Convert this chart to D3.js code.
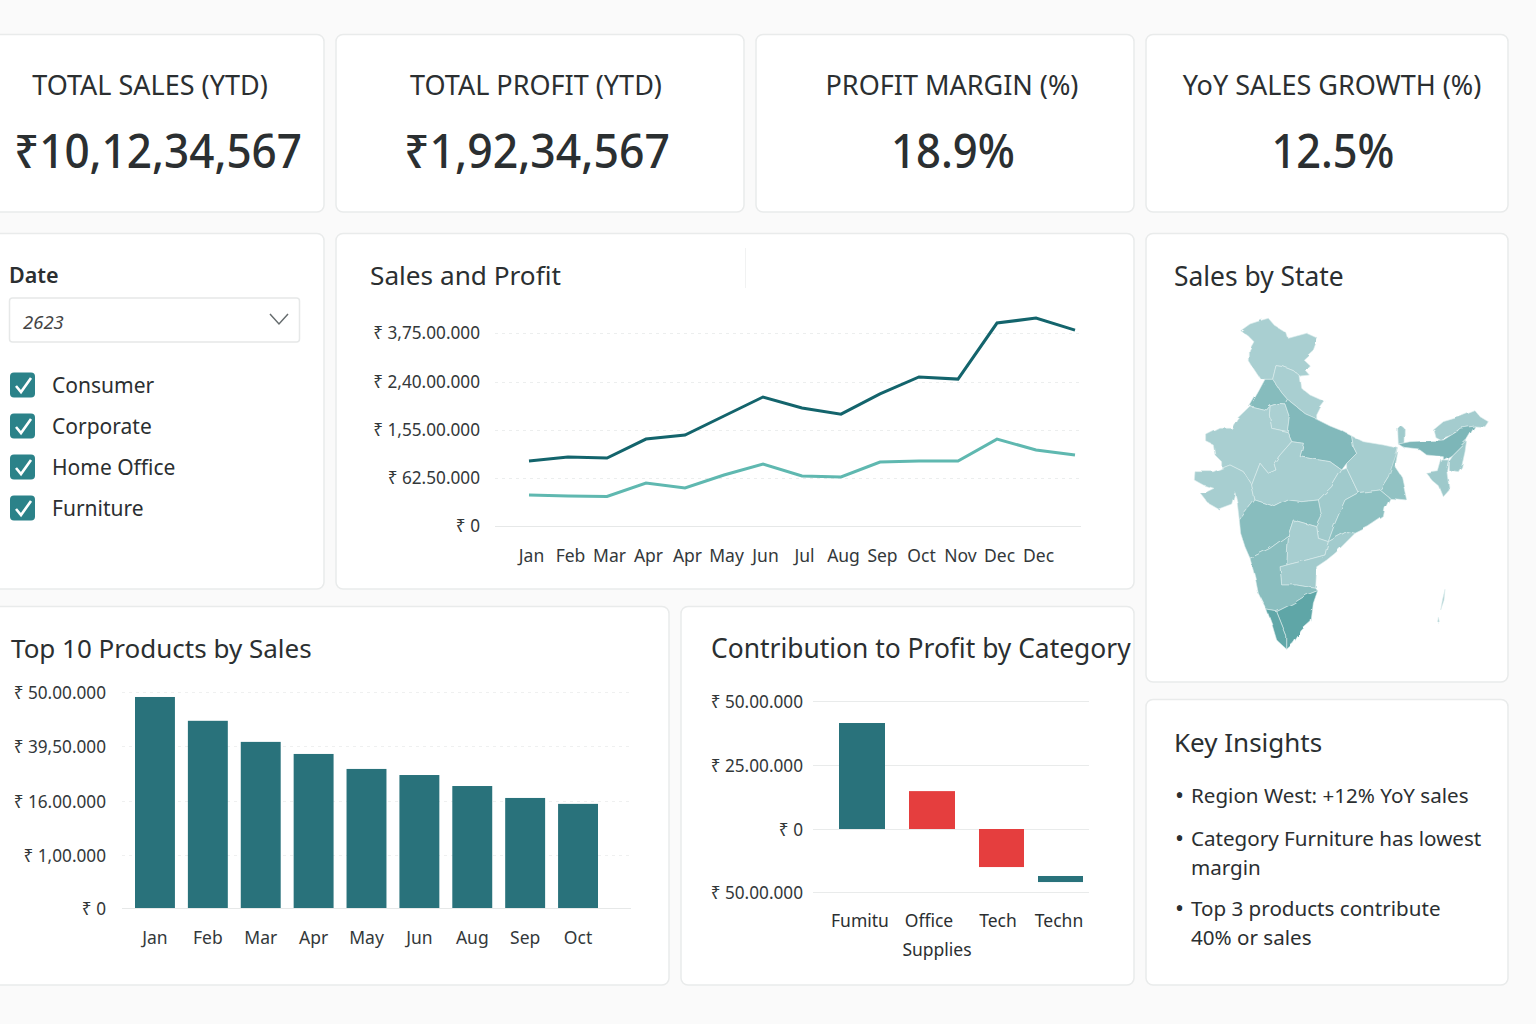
<!DOCTYPE html>
<html>
<head>
<meta charset="utf-8">
<title>Sales dashboard</title>
<script src="https://cdn.jsdelivr.net/npm/d3@7"></script>
<style>
html, body { margin: 0; padding: 0; background: #fafafa; overflow: hidden; }
text { font-family: "Noto Sans", "DejaVu Sans", sans-serif; fill: #2b2f31; }
</style>
</head>
<body>
<div id="chart"></div>
<script>
// KPI row
var kpiTitles = ["TOTAL SALES (YTD)", "TOTAL PROFIT (YTD)", "PROFIT MARGIN (%)", "YoY SALES GROWTH (%)"];
var kpiValues = ["₹10,12,34,567", "₹1,92,34,567", "18.9%", "12.5%"];

// slicer
var slicerYear = "2623";
var segments = ["Consumer", "Corporate", "Home Office", "Furniture"];

// sales and profit lines (15 points, only 14 are labelled in the picture)
var lineMonths = ["Jan", "Feb", "Mar", "Apr", "Apr", "May", "Jun", "Jul", "Aug", "Sep", "Oct", "Nov", "Dec", "Dec", ""];
var salesSeries = [9530000, 10300000, 10100000, 13750000, 14540000, 17980000, 21340000, 19400000, 18300000, 21880000, 25380000, 24800000, 40250000, 41600000, 38300000];
var profitSeries = [4040000, 3900000, 3840000, 5600000, 4950000, 6830000, 8950000, 6640000, 6440000, 9330000, 9530000, 9530000, 13750000, 11650000, 10680000];
var lineTickValues = [0, 6250000, 15500000, 24000000, 37500000];
var lineTickLabels = ["₹ 0", "₹ 62.50.000", "₹ 1,55.00.000", "₹ 2,40.00.000", "₹ 3,75.00.000"];

// top 10 products
var productMonths = ["Jan", "Feb", "Mar", "Apr", "May", "Jun", "Aug", "Sep", "Oct"];
var productSales = [4903000, 4440000, 4030000, 3610000, 2970000, 2710000, 2240000, 1730000, 1520000];
var productTickValues = [0, 100000, 1600000, 3950000, 5000000];
var productTickLabels = ["₹ 0", "₹ 1,00.000", "₹ 16.00.000", "₹ 39,50.000", "₹ 50.00.000"];

// contribution to profit, each bar runs from low to high
var profitCategories = ["Fumitu", "Office", "Tech", "Techn"];
var profitCategoryLine2 = ["", "Supplies", "", ""];
var profitLow = [0, 0, -3020000, -4210000];
var profitHigh = [4140000, 1480000, 0, -3730000];
var profitLoss = [false, true, true, false];
var profitTickValues = [-5000000, 0, 2500000, 5000000];
var profitTickLabels = ["₹ 50.00.000", "₹ 0", "₹ 25.00.000", "₹ 50.00.000"];

// key insights
var insights = [
  ["Region West: +12% YoY sales"],
  ["Category Furniture has lowest", "margin"],
  ["Top 3 products contribute", "40% or sales"]
];

// sales by state, outlines
var stateNames = ["Jammu and Kashmir", "Himachal Uttarakhand", "Punjab Haryana", "Delhi", "Uttar Pradesh", "Rajasthan", "Gujarat", "Madhya Pradesh", "Chhattisgarh", "Bihar Jharkhand", "West Bengal", "Odisha", "Maharashtra", "Telangana", "Andhra Pradesh", "Karnataka", "Tamil Nadu", "Kerala", "Sikkim", "Arunachal", "Assam", "Nagaland Manipur", "Tripura Mizoram", "Andaman", "Andaman South"];
var stateSales = [20, 20, 58, 18, 62, 20, 22, 22, 30, 24, 46, 50, 56, 22, 28, 54, 100, 98, 30, 26, 68, 32, 32, 25, 25];
var stateShapes = [
  [[272,92],[300,72],[330,62],[355,55],[375,78],[410,100],[415,115],[440,108],[470,100],[503,115],[490,150],[460,178],[478,195],[465,210],[478,225],[450,228],[430,212],[400,200],[378,197],[368,238],[345,238],[330,235],[310,205],[298,185],[298,150],[312,125],[295,108]],
  [[368,238],[378,197],[400,200],[430,212],[450,228],[455,265],[480,285],[525,305],[510,325],[500,345],[500,358],[470,345],[440,320],[412,298],[395,278]],
  [[345,238],[368,238],[395,278],[412,298],[405,312],[385,310],[360,318],[350,330],[300,318],[325,275]],
  [[360,318],[385,310],[405,312],[418,350],[412,395],[365,385],[358,345]],
  [[405,312],[412,298],[440,320],[470,345],[500,358],[540,378],[575,392],[605,408],[610,440],[620,460],[590,490],[575,510],[540,485],[495,478],[450,470],[460,430],[425,425],[412,395],[418,350]],
  [[300,318],[350,330],[360,318],[358,345],[365,385],[412,395],[425,425],[390,465],[372,490],[378,510],[355,520],[330,490],[305,555],[280,515],[240,495],[215,505],[215,485],[195,465],[190,435],[170,425],[170,405],[210,385],[245,385],[262,355]],
  [[135,515],[190,515],[215,505],[240,495],[280,515],[305,555],[315,600],[268,660],[262,610],[255,578],[245,612],[205,627],[175,610],[150,578],[165,578],[192,565],[160,555],[133,540]],
  [[305,555],[330,490],[355,520],[378,510],[372,490],[390,465],[425,425],[460,430],[450,470],[495,478],[540,485],[575,510],[545,560],[505,600],[455,605],[415,600],[375,620],[315,600]],
  [[505,600],[545,560],[575,510],[590,505],[625,578],[585,600],[555,670],[535,725],[505,715],[500,680],[515,650]],
  [[605,408],[640,425],[700,435],[745,445],[735,500],[715,530],[690,570],[625,578],[590,505],[590,490],[620,460],[610,440]],
  [[745,445],[735,500],[755,530],[770,600],[720,595],[690,570],[715,530]],
  [[625,578],[690,570],[720,595],[705,625],[700,650],[655,680],[615,700],[590,695],[535,725],[555,670],[585,600]],
  [[268,660],[315,600],[375,620],[415,600],[455,605],[505,600],[515,650],[500,680],[430,660],[415,705],[360,745],[300,775],[285,740],[272,700]],
  [[430,660],[500,680],[505,715],[535,725],[525,765],[470,780],[410,795],[415,705]],
  [[535,725],[590,695],[615,700],[585,730],[555,760],[530,780],[500,800],[497,865],[440,855],[395,855],[390,800],[410,795],[470,780],[525,765]],
  [[300,775],[360,745],[415,705],[410,795],[390,800],[395,855],[440,855],[497,865],[503,872],[470,885],[430,910],[380,935],[350,930],[325,880],[315,830]],
  [[380,935],[430,910],[470,885],[503,872],[490,910],[483,965],[455,990],[430,1030],[410,1048],[410,1010]],
  [[350,930],[380,935],[410,1010],[410,1048],[380,1020],[365,970]],
  [[743,385],[752,376],[763,385],[762,430],[745,432]],
  [[850,390],[880,365],[930,350],[975,332],[990,350],[1015,365],[1005,380],[975,378],[930,385],[905,405],[870,418],[855,410]],
  [[745,432],[780,425],[880,420],[920,395],[930,385],[975,378],[950,420],[925,445],[905,465],[880,480],[880,470],[830,465],[810,450],[765,445]],
  [[950,420],[945,455],[935,500],[925,515],[895,510],[895,480],[905,465],[925,445]],
  [[830,520],[865,515],[875,480],[895,480],[890,510],[898,570],[880,590],[868,560],[850,545]],
  [[885,868],[882,900],[872,930],[878,898]],
  [[868,955],[871,968],[866,970]]
];

var svg = d3.select("div#chart").append("svg")
    .attr("width", 1536)
    .attr("height", 1024)
    .style("display", "block");

// roughens the straight traced edges of the map
var mapFilter = svg.append("defs").append("filter")
    .attr("id", "mapEdge")
    .attr("x", "-5%").attr("y", "-5%")
    .attr("width", "110%").attr("height", "110%");
mapFilter.append("feTurbulence")
    .attr("type", "fractalNoise")
    .attr("baseFrequency", .07)
    .attr("numOctaves", 2)
    .attr("seed", 4)
    .attr("result", "noise");
mapFilter.append("feDisplacementMap")
    .attr("in", "SourceGraphic")
    .attr("in2", "noise")
    .attr("scale", 4)
    .attr("result", "moved");
mapFilter.append("feGaussianBlur")
    .attr("in", "moved")
    .attr("stdDeviation", .35);

function card(x, y, w, h) {
  svg.append("rect")
      .attr("x", x)
      .attr("y", y - .5)
      .attr("width", w)
      .attr("height", h + .5)
      .attr("rx", 7)
      .attr("fill", "#ffffff")
      .attr("stroke", "#e9ebeb")
      .attr("stroke-width", 1.5);
}

// y is the visual middle of the text, the font sits a little high
function label(x, y, txt, size, anchor) {
  return svg.append("text")
      .attr("x", x)
      .attr("y", y + size * .1)
      .attr("font-size", size)
      .attr("text-anchor", anchor || "start")
      .attr("dominant-baseline", "middle")
      .text(txt);
}

// style an axis the same way everywhere
function cleanAxis(g, size) {
  g.select(".domain").remove();
  g.selectAll(".tick line").remove();
  g.selectAll("text")
      .attr("font-size", size)
      .style("font-family", '"Noto Sans", sans-serif')
      .style("fill", "#33383a");
}

//Cards
card(-10, 35, 334, 177);
card(336, 35, 408, 177);
card(756, 35, 378, 177);
card(1146, 35, 362, 177);
card(-10, 234, 334, 355);
card(336, 234, 798, 355);
card(1146, 234, 362, 448);
card(-10, 607, 679, 378);
card(681, 607, 453, 378);
card(1146, 700, 362, 285);

//KPI text
var kpiCenters = d3.scaleOrdinal().domain(kpiTitles).range([150, 536, 952, 1332]);
var kpiWidths = d3.scaleOrdinal().domain(kpiTitles).range([288, 266, 124, 123]);
kpiTitles.forEach(function(t, i) {
  label(kpiCenters(t), 85, t, 27, "middle");
  label(kpiCenters(t) + (i == 0 ? 8 : 1), 151, kpiValues[i], 47, "middle")
      .attr("font-weight", 500)
      .attr("textLength", kpiWidths(t))
      .attr("lengthAdjust", "spacingAndGlyphs");
});

//Slicer
label(9, 275, "Date", 21.5).attr("font-weight", 600);
svg.append("rect")
    .attr("x", 9.5)
    .attr("y", 298)
    .attr("width", 290)
    .attr("height", 44)
    .attr("rx", 3)
    .attr("fill", "#fff")
    .attr("stroke", "#e6e8e8")
    .attr("stroke-width", 1.5);
label(23, 322, slicerYear, 18.5).attr("font-style", "italic").style("fill", "#444");
svg.append("path")
    .attr("d", "M270 314L279 324L288 314")
    .attr("fill", "none")
    .attr("stroke", "#666c6e")
    .attr("stroke-width", 1.5);

var segmentY = d3.scalePoint().domain(segments).range([385, 508]);
segments.forEach(function(s) {
  var y = segmentY(s);
  svg.append("rect")
      .attr("x", 10)
      .attr("y", y - 12.5)
      .attr("width", 25)
      .attr("height", 25)
      .attr("rx", 4)
      .attr("fill", "#2b8289");
  svg.append("path")
      .attr("d", "M16 " + (y + 1) + "L21 " + (y + 7) + "L31 " + (y - 7))
      .attr("fill", "none")
      .attr("stroke", "#fff")
      .attr("stroke-width", 2.6);
  label(52, y, s, 21);
});

//Sales and Profit
label(370, 275, "Sales and Profit", 26.2);
svg.append("line")
    .attr("x1", 745.5).attr("x2", 745.5)
    .attr("y1", 248).attr("y2", 288)
    .attr("stroke", "#f1f2f2");

var lineIndex = lineMonths.map(function(d, i) { return i; });
var lineX = d3.scalePoint().domain(lineIndex).range([529, 1075]);
var lineY = d3.scaleLinear().domain(lineTickValues).range([526, 478, 430, 382, 333]);

svg.append("g").selectAll("line")
    .data(lineTickValues)
    .enter().append("line")
    .attr("x1", 495)
    .attr("x2", 1081)
    .attr("y1", function(d) { return lineY(d) + .5; })
    .attr("y2", function(d) { return lineY(d) + .5; })
    .attr("stroke", function(d) { return d == 0 ? "#e6e8e8" : "#eceeee"; })
    .attr("stroke-dasharray", function(d) { return d == 0 ? null : "3,4"; });

svg.append("g")
    .attr("transform", "translate(480,0)")
    .call(d3.axisLeft(lineY).tickValues(lineTickValues).tickSize(0).tickPadding(0)
        .tickFormat(function(d, i) { return lineTickLabels[i]; }))
    .call(cleanAxis, 17.2);

svg.append("g")
    .attr("transform", "translate(2,556)")
    .call(d3.axisBottom(lineX).tickSize(0).tickPadding(0)
        .tickFormat(function(i) { return lineMonths[i]; }))
    .call(cleanAxis, 17.5)
    .selectAll("text").attr("dy", ".35em").attr("y", 0);

var linePath = d3.line()
    .x(function(d, i) { return lineX(i); })
    .y(function(d) { return lineY(d); });

svg.append("path")
    .attr("d", linePath(salesSeries))
    .attr("fill", "none")
    .attr("stroke", "#13646c")
    .attr("stroke-width", 3);
svg.append("path")
    .attr("d", linePath(profitSeries))
    .attr("fill", "none")
    .attr("stroke", "#5fb8b0")
    .attr("stroke-width", 3);

//Map
label(1174, 276, "Sales by State", 26.4);
var mapColor = d3.scaleLinear().domain([18, 100]).range(["#abd0d2", "#5fa6a7"]);
var mapProjection = d3.geoIdentity().scale(1 / 3).translate([1150, 300]);
var mapPath = d3.geoPath(mapProjection);
svg.append("g")
    .attr("filter", "url(#mapEdge)")
    .selectAll("path")
    .data(stateShapes)
    .enter().append("path")
    .attr("d", function(d) { return mapPath({ type: "Polygon", coordinates: [d.concat([d[0]])] }); })
    .attr("fill", function(d, i) { return mapColor(stateSales[i]); })
    .attr("stroke", "#dcecec")
    .attr("stroke-width", .6)
    .attr("stroke-linejoin", "round")
    .append("title")
    .text(function(d, i) { return stateNames[i]; });

//Top 10 products
label(11, 648, "Top 10 Products by Sales", 26);
var barX = d3.scaleBand().domain(productMonths).range([135, 598]).paddingInner(.245);
var barY = d3.scaleLinear().domain(productTickValues).range([908, 855, 801, 746, 692]);

svg.append("g").selectAll("line")
    .data(productTickValues)
    .enter().append("line")
    .attr("x1", 122)
    .attr("x2", 631)
    .attr("y1", function(d) { return barY(d) + .5; })
    .attr("y2", function(d) { return barY(d) + .5; })
    .attr("stroke", function(d) { return d == 0 ? "#e6e8e8" : "#eff0f0"; })
    .attr("stroke-dasharray", function(d) { return d == 0 ? null : "3,4"; });

svg.append("g")
    .attr("transform", "translate(106,.5)")
    .call(d3.axisLeft(barY).tickValues(productTickValues).tickSize(0).tickPadding(0)
        .tickFormat(function(d, i) { return productTickLabels[i]; }))
    .call(cleanAxis, 17.2);

svg.append("g")
    .attr("transform", "translate(0,938)")
    .call(d3.axisBottom(barX).tickSize(0).tickPadding(0))
    .call(cleanAxis, 17.5)
    .selectAll("text").attr("dy", ".35em").attr("y", 0);

svg.append("g").selectAll("rect")
    .data(productSales)
    .enter().append("rect")
    .attr("x", function(d, i) { return barX(productMonths[i]); })
    .attr("y", function(d) { return barY(d); })
    .attr("width", barX.bandwidth())
    .attr("height", function(d) { return barY(0) - barY(d); })
    .attr("fill", "#29727b");

//Contribution to profit
label(711, 648, "Contribution to Profit by Category", 26.4);
var profitX = d3.scaleOrdinal().domain(profitCategories).range([839, 909, 979, 1038]);
var profitWidth = d3.scaleOrdinal().domain(profitCategories).range([46, 46, 45, 45]);
var profitLabelX = d3.scaleOrdinal().domain(profitCategories).range([860, 929, 998, 1059]);
var profitY = d3.scaleLinear().domain(profitTickValues).range([892, 829, 765, 701]);

svg.append("g").selectAll("line")
    .data(profitTickValues)
    .enter().append("line")
    .attr("x1", 813)
    .attr("x2", 1089)
    .attr("y1", function(d) { return profitY(d) + .5; })
    .attr("y2", function(d) { return profitY(d) + .5; })
    .attr("stroke", "#e9ebeb");

svg.append("g")
    .attr("transform", "translate(803,.5)")
    .call(d3.axisLeft(profitY).tickValues(profitTickValues).tickSize(0).tickPadding(0)
        .tickFormat(function(d, i) { return profitTickLabels[i]; }))
    .call(cleanAxis, 17.2);

svg.append("g").selectAll("rect")
    .data(profitCategories)
    .enter().append("rect")
    .attr("x", function(d) { return profitX(d); })
    .attr("y", function(d, i) { return profitY(profitHigh[i]); })
    .attr("width", function(d) { return profitWidth(d); })
    .attr("height", function(d, i) { return profitY(profitLow[i]) - profitY(profitHigh[i]); })
    .attr("fill", function(d, i) { return profitLoss[i] ? "#e53e3e" : "#29727b"; });

profitCategories.forEach(function(c, i) {
  label(profitLabelX(c), 921, c, 17.5, "middle");
  if (profitCategoryLine2[i]) label(profitLabelX(c) + 8, 950, profitCategoryLine2[i], 17.5, "middle");
});

//Key insights
label(1174, 742, "Key Insights", 26);
var insightY = 795;
var insightGaps = [43, 41];
insights.forEach(function(lines, i) {
  label(1175, insightY, "•", 24);
  lines.forEach(function(l, j) {
    label(1191, insightY + j * 29, l, 20.6);
  });
  insightY += (lines.length - 1) * 29 + (insightGaps[i] || 0);
});
</script>
</body>
</html>
